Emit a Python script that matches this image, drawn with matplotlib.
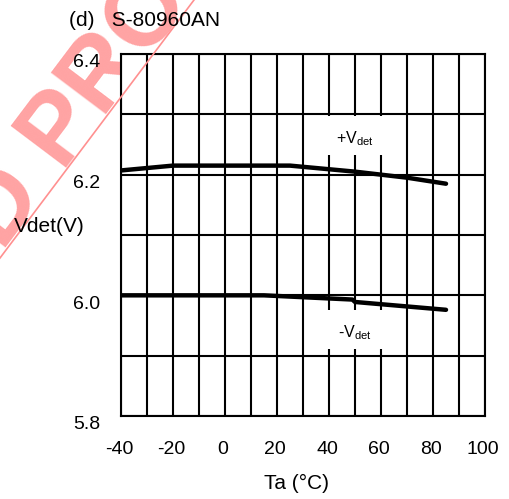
import numpy as np
import matplotlib
matplotlib.use('Agg')
import matplotlib.pyplot as plt
from matplotlib.patches import Rectangle
from matplotlib.lines import Line2D
from matplotlib import transforms

plt.rcParams['font.family'] = ['Liberation Sans', 'DejaVu Sans']
plt.rcParams['mathtext.fontset'] = 'custom'
plt.rcParams['mathtext.rm'] = 'Liberation Sans'
plt.rcParams['axes.unicode_minus'] = False

# Detection voltage vs ambient temperature
temp_plus = [-40, -20, 25, 50, 70, 85]
vdet_plus = [6.207, 6.215, 6.215, 6.205, 6.195, 6.185]

temp_minus = [-40, 15, 49, 50, 85]
vdet_minus = [6.000, 6.000, 5.993, 5.989, 5.976]

x_ticks = [-40, -20, 0, 20, 40, 60, 80, 100]
y_ticks = [5.8, 6.0, 6.2, 6.4]

fig = plt.figure(figsize=(5.1, 4.99), dpi=100)
W, H = 510, 499
ax = fig.add_axes([121 / W, 1 - 416 / H, 364 / W, 362 / H])

ax.set_xlim(-40, 100)
ax.set_ylim(5.8, 6.4)
ax.set_xticks(x_ticks)
ax.set_xticks(np.arange(-40, 101, 10), minor=True)
ax.set_yticks(y_ticks)
ax.set_yticks(np.arange(5.8, 6.41, 0.1), minor=True)
ax.set_yticklabels(['%.1f' % v for v in y_ticks])
ax.set_axisbelow(True)
ax.grid(which='both', color='black', lw=1.5)
ax.tick_params(which='both', length=0, labelsize=14)
ax.tick_params(axis='x', pad=18)
ax.tick_params(axis='y', pad=15)
for s in ax.spines.values():
    s.set_linewidth(1.5)
    s.set_color('black')

# nudge the tick labels a little
off = transforms.ScaledTranslation(0, -7 / 100, fig.dpi_scale_trans)
for t in ax.yaxis.get_major_ticks():
    t.label1.set_transform(t.label1.get_transform() + off)
offx = transforms.ScaledTranslation(-2 / 100, 0, fig.dpi_scale_trans)
for t in ax.xaxis.get_major_ticks():
    t.label1.set_transform(t.label1.get_transform() + offx)

# white label boxes over the grid
ax.add_patch(Rectangle((32, 6.232), 36, 0.066, facecolor='white', edgecolor='none', zorder=2))
ax.add_patch(Rectangle((32, 5.911), 36, 0.064, facecolor='white', edgecolor='none', zorder=2))

ax.plot(temp_plus, vdet_plus, color='black', lw=3.2, solid_capstyle='round', zorder=3)
ax.plot(temp_minus, vdet_minus, color='black', lw=3.2, solid_capstyle='round', zorder=3)

ax.text(50, 6.259, r'+V$_{\mathrm{det}}$', fontsize=11.5, ha='center', va='center', zorder=4)
ax.text(50, 5.938, r'-V$_{\mathrm{det}}$', fontsize=11.5, ha='center', va='center', zorder=4)

fig.text(69 / W, 1 - 26 / H, '(d)   S-80960AN', fontsize=15, ha='left', va='baseline')
fig.text(14 / W, 1 - 227 / H, 'Vdet(V)', fontsize=15, ha='left', va='center')
fig.text(297 / W, 1 - 483 / H, 'Ta (\u00b0C)', fontsize=15, ha='center', va='center')

# stamp behind the plot, thin rule over it
fig.text(2.6 / W, 1 - 252.5 / H, 'D PRODUCT', fontsize=72, fontweight='bold',
         color='#ffa3a3', rotation=53, rotation_mode='anchor',
         ha='left', va='baseline', zorder=-1)
fig.add_artist(Line2D([194 / W, 0], [1, 1 - 258 / H], color='#ff9090', lw=1.2, zorder=1))

fig.savefig('out.png', dpi=100)
